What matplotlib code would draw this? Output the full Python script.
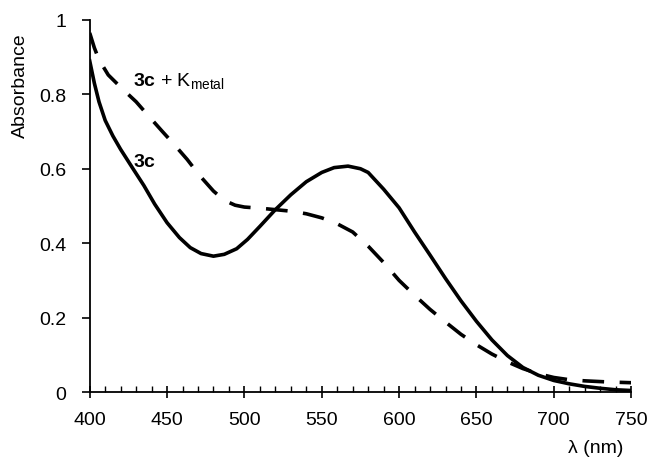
import matplotlib
matplotlib.use("Agg")
import matplotlib.pyplot as plt
from matplotlib.ticker import FuncFormatter, MultipleLocator

plt.rcParams['font.family'] = ['Liberation Sans', 'DejaVu Sans']
plt.rcParams['mathtext.fontset'] = 'custom'
plt.rcParams['mathtext.rm'] = 'Liberation Sans'
plt.rcParams['mathtext.bf'] = 'Liberation Sans:bold'

# 3c (solid)
wl_3c = [400, 403, 406, 410, 415, 420, 428, 435, 442, 450, 458, 465, 472, 480,
         487, 495, 502, 510, 520, 530, 540, 550, 558, 567, 575, 580, 590, 600,
         610, 620, 630, 640, 650, 660, 670, 680, 690, 700, 710, 720, 730, 740,
         750]
abs_3c = [0.89, 0.83, 0.78, 0.73, 0.688, 0.652, 0.60, 0.555, 0.505, 0.455,
          0.415, 0.388, 0.372, 0.365, 0.37, 0.385, 0.41, 0.445, 0.49, 0.53,
          0.565, 0.59, 0.603, 0.607, 0.60, 0.59, 0.545, 0.495, 0.43, 0.368,
          0.305, 0.245, 0.19, 0.14, 0.098, 0.066, 0.045, 0.031, 0.022, 0.015,
          0.01, 0.006, 0.004]

# 3c + K_metal (dashed)
wl_3ck = [400, 403, 406, 412, 421, 430, 438, 447, 454, 463, 471, 480, 487, 494,
          500, 510, 520, 530, 540, 550, 560, 570, 580, 590, 600, 610, 620, 630,
          640, 650, 660, 670, 680, 690, 700, 710, 720, 735, 750]
abs_3ck = [0.965, 0.925, 0.893, 0.852, 0.815, 0.78, 0.742, 0.70, 0.668, 0.625,
           0.582, 0.54, 0.515, 0.502, 0.497, 0.494, 0.49, 0.486, 0.479, 0.468,
           0.452, 0.43, 0.392, 0.348, 0.30, 0.26, 0.222, 0.188, 0.155, 0.127,
           0.102, 0.081, 0.063, 0.049, 0.039, 0.033, 0.03, 0.027, 0.025]

x_ticks = [400, 450, 500, 550, 600, 650, 700, 750]
y_ticks = [0, 0.2, 0.4, 0.6, 0.8, 1.0]

fig = plt.figure(figsize=(6.5, 4.64), dpi=100)
ax = fig.add_axes([0.138, 0.153, 0.833, 0.802])

ax.plot(wl_3c, abs_3c, color='black', lw=2.6, solid_joinstyle='round')
ax.plot(wl_3ck, abs_3ck, color='black', lw=2.6, dashes=(6, 4.3))

ax.set_xlim(400, 750)
ax.set_ylim(0, 1)
ax.set_xticks(x_ticks)
ax.set_yticks(y_ticks)
ax.xaxis.set_minor_locator(MultipleLocator(10))
ax.yaxis.set_major_formatter(FuncFormatter(lambda v, p: '%g' % v))

for s in ['top', 'right']:
    ax.spines[s].set_visible(False)
for s in ['left', 'bottom']:
    ax.spines[s].set_linewidth(1.3)

ax.tick_params(axis='x', which='major', direction='inout', length=8, width=1.2,
               labelsize=14, pad=10)
ax.tick_params(axis='x', which='minor', direction='in', length=4, width=1.0)
ax.tick_params(axis='y', which='major', direction='out', length=6, width=1.2,
               labelsize=14, pad=11)

fig.text(20 / 650, 1 - 85.5 / 464, 'Absorbance', fontsize=14, rotation=90,
         ha='center', va='center')
fig.text(623 / 650, 1 - 449 / 464, 'λ (nm)', fontsize=14, ha='right',
         va='center')

ax.text(428, 0.836, r'$\mathbf{3c}$ + K$_{\mathrm{metal}}$', fontsize=14,
        ha='left', va='center')
ax.text(428, 0.62, r'$\mathbf{3c}$', fontsize=14, ha='left', va='center')

fig.savefig('out.png', dpi=100)
